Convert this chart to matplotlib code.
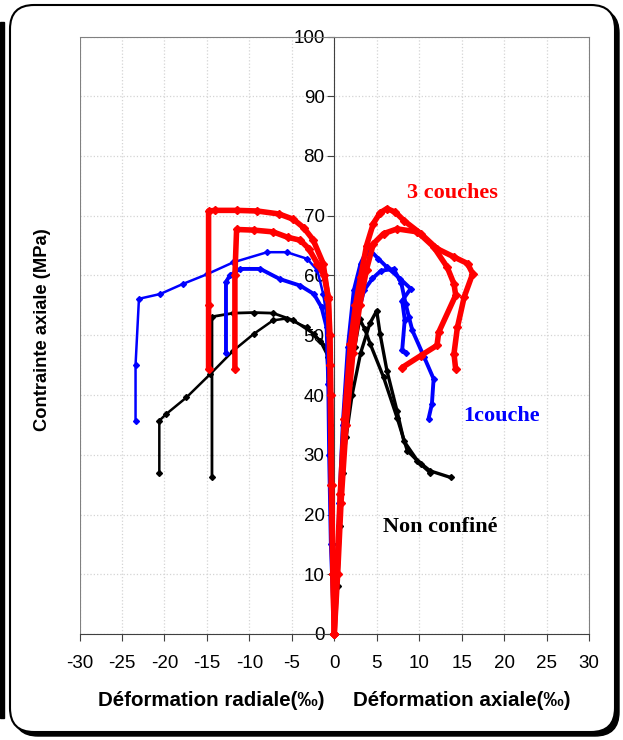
import matplotlib
matplotlib.use("Agg")
import matplotlib.pyplot as plt
from matplotlib.patches import FancyBboxPatch, Rectangle

plt.rcParams['font.family'] = ['Liberation Sans', 'DejaVu Sans']

# Courbes contrainte / déformation : branche radiale (x < 0) et axiale (x > 0)
# 3 couches
red_a_rad_x = [0, -0.15, -0.3, -0.4, -0.5, -0.7, -1.3, -2.5, -3.6, -4.8, -6.5, -9.1, -11.5, -14.0, -14.8, -14.8, -14.8]
red_a_rad_y = [0, 10, 25, 40, 50, 56, 62, 66, 68, 69.4, 70.3, 70.8, 70.9, 70.9, 70.8, 55, 44.3]
red_b_rad_x = [0, -0.15, -0.35, -0.5, -0.7, -1.2, -2.0, -3.0, -4.0, -5.5, -7.2, -9.5, -11.5, -11.7, -11.7]
red_b_rad_y = [0, 10, 25, 45, 56.4, 60, 62, 64.5, 65.9, 66.4, 67.3, 67.6, 67.7, 60, 44.3]
red_a_ax_x = [0, 0.3, 0.7, 1.2, 1.9, 2.5, 3.1, 3.8, 4.6, 5.4, 6.2, 7.2, 8.2, 10.2, 12.1, 14.1, 15.7, 16.3, 15.3, 14.5, 14.1, 14.3]
red_a_ax_y = [0, 10, 23.4, 36, 48.5, 55, 59.7, 65, 68.7, 70.5, 71.2, 70.6, 69.2, 67.0, 64.5, 63.1, 62.0, 60.3, 56.4, 51.3, 46.9, 44.3]
red_b_ax_x = [0, 0.4, 0.8, 1.4, 2.2, 3.0, 3.8, 4.6, 5.8, 7.4, 9.8, 11.7, 13.3, 14.1, 14.3, 12.3, 12.1, 10.2, 8.0]
red_b_ax_y = [0, 10, 22, 35, 47, 55, 61, 65.3, 67.0, 67.8, 67.3, 64.8, 61.4, 58.6, 56.7, 50.5, 48.3, 46.6, 44.6]

# 1 couche
blue_a_rad_x = [0, -0.3, -0.5, -0.6, -0.7, -1.3, -2.0, -3.2, -5.6, -7.9, -11.9, -15.0, -17.8, -20.5, -23.0, -23.4, -23.4]
blue_a_rad_y = [0, 15, 30, 42.4, 51.3, 56.9, 60.9, 62.8, 63.9, 63.9, 62.2, 60.2, 58.6, 56.9, 56.1, 45, 35.7]
blue_b_rad_x = [0, -0.4, -0.6, -0.7, -0.9, -1.5, -2.4, -4.0, -6.4, -8.7, -11.1, -12.3, -12.75, -12.75]
blue_b_rad_y = [0, 15, 30, 41.8, 51.3, 54.7, 56.9, 58.3, 59.4, 61.1, 61.1, 60.0, 58.9, 47.0]
blue_a_ax_x = [0, 0.3, 0.6, 1.0, 1.6, 2.3, 3.1, 3.7, 4.25, 5.2, 6.2, 7.8, 9.0, 8.0, 8.3, 8.0, 8.4]
blue_a_ax_y = [0, 10, 22, 35, 48, 57.5, 62, 63.8, 64.2, 62.8, 61.4, 59.4, 57.8, 55.8, 52.6, 47.5, 47.1]
blue_b_ax_x = [0, 0.4, 0.8, 1.3, 2.0, 2.7, 3.5, 4.5, 5.5, 7.0, 7.9, 8.4, 8.8, 9.2, 10.6, 11.7, 11.5, 11.1]
blue_b_ax_y = [0, 10, 22, 35, 46, 53, 57.5, 59.5, 60.8, 61.1, 58.7, 55.3, 53.0, 50.8, 46.3, 42.7, 38.5, 36.0]

# non confiné
black_a_rad_x = [0, -0.3, -0.5, -0.9, -2.4, -4.8, -7.2, -9.5, -11.9, -14.4, -14.4]
black_a_rad_y = [0, 15, 35, 48.0, 50.2, 52.5, 53.7, 53.8, 53.7, 53.1, 26.2]
black_b_rad_x = [0, -0.3, -0.5, -0.7, -1.7, -3.2, -5.6, -7.2, -9.5, -11.9, -14.6, -17.4, -19.8, -20.6, -20.6]
black_b_rad_y = [0, 15, 35, 46.3, 49.1, 51.3, 52.8, 52.5, 50.2, 47.4, 43.5, 39.6, 36.8, 35.7, 27.0]
black_a_ax_x = [0, 0.3, 0.6, 0.9, 1.2, 1.8, 2.4, 3.0, 3.6, 4.25, 5.8, 7.4, 8.6, 10.2, 11.3]
black_a_ax_y = [0, 8, 18, 28, 36, 42, 48, 52.7, 51, 48.5, 43.0, 36.2, 30.7, 28.4, 27.0]
black_b_ax_x = [0, 0.4, 0.7, 1.0, 1.4, 2.1, 3.1, 4.2, 5.0, 5.4, 6.2, 7.4, 8.2, 9.8, 11.3, 13.7]
black_b_ax_y = [0, 8, 18, 27, 33, 40, 47, 52, 54.1, 50.2, 44.1, 37.3, 32.3, 29.0, 27.3, 26.2]

x_ticks = list(range(-30, 31, 5))
y_ticks = list(range(0, 101, 10))

W, H = 623, 740
fig = plt.figure(figsize=(W / 100, H / 100), dpi=100)

# cadre arrondi avec ombre, en coordonnées pixel
bg = fig.add_axes([0, 0, 1, 1])
bg.set_xlim(0, W)
bg.set_ylim(0, H)
bg.axis('off')
bg.add_patch(Rectangle((0, 22), 4, 696, color='black'))
bg.add_patch(FancyBboxPatch((14, 4), 605, 727, boxstyle="round,pad=0,rounding_size=24",
                            facecolor='black', edgecolor='black', lw=1))
bg.add_patch(FancyBboxPatch((10, 8), 605, 727, boxstyle="round,pad=0,rounding_size=24",
                            facecolor='white', edgecolor='black', lw=1.5))

ax = fig.add_axes([79.5 / W, 106 / H, (589 - 79.5) / W, (634 - 36.5) / H])
ax.set_xlim(-30, 30)
ax.set_ylim(0, 100)

# l'axe vertical passe par x = 0 (à placer avant de régler les graduations)
ax.spines['left'].set_position(('data', 0))
ax.spines['left'].set_color('#404040')
ax.spines['bottom'].set_color('#404040')
ax.spines['top'].set_color('#808080')
ax.spines['right'].set_color('#808080')
ax.axvline(-30, color='#808080', lw=0.8, zorder=1)

curves = [
    (black_a_rad_x, black_a_rad_y, 'black', 2.0, 3.0),
    (black_b_rad_x, black_b_rad_y, 'black', 1.8, 3.0),
    (black_a_ax_x, black_a_ax_y, 'black', 2.4, 3.0),
    (black_b_ax_x, black_b_ax_y, 'black', 2.4, 3.0),
    (blue_a_rad_x, blue_a_rad_y, 'blue', 1.8, 3.0),
    (blue_b_rad_x, blue_b_rad_y, 'blue', 2.8, 3.0),
    (blue_a_ax_x, blue_a_ax_y, 'blue', 2.8, 3.0),
    (blue_b_ax_x, blue_b_ax_y, 'blue', 2.8, 3.0),
    (red_a_rad_x, red_a_rad_y, 'red', 4.0, 3.6),
    (red_b_rad_x, red_b_rad_y, 'red', 4.0, 3.6),
    (red_a_ax_x, red_a_ax_y, 'red', 4.0, 3.6),
    (red_b_ax_x, red_b_ax_y, 'red', 4.0, 3.6),
]
for xs, ys, col, lw, ms in curves:
    ax.plot(xs, ys, color=col, lw=lw, marker='D', ms=ms, mec=col, mfc=col,
            solid_joinstyle='round', solid_capstyle='round', clip_on=False, zorder=3)

ax.set_xticks(x_ticks)
ax.set_yticks(y_ticks)
ax.set_xticklabels([str(v) for v in x_ticks])
ax.set_yticklabels([str(v) for v in y_ticks])
ax.grid(True, color='#d4d4d4', ls=':', lw=0.9)
ax.set_axisbelow(True)
ax.tick_params(axis='x', direction='out', length=5, width=0.8, pad=10, colors='#404040',
               labelcolor='black', labelsize=13.5)
ax.tick_params(axis='y', direction='out', length=5, width=0.8, pad=2, colors='#404040',
               labelcolor='black', labelsize=13.5)

ax.text(13.96, 73.8, '3 couches', color='red', fontsize=16, fontweight='bold',
        family='Liberation Serif', ha='center', va='center')
ax.text(19.7, 36.5, '1couche', color='blue', fontsize=16, fontweight='bold',
        family='Liberation Serif', ha='center', va='center')
ax.text(12.5, 17.9, 'Non confiné', color='black', fontsize=16, fontweight='bold',
        family='Liberation Serif', ha='center', va='center')

fig.text(211 / W, 1 - 701 / H, 'Déformation radiale(‰)', fontsize=14.8, fontweight='bold',
         ha='center', va='center')
fig.text(462 / W, 1 - 701 / H, 'Déformation axiale(‰)', fontsize=14.8, fontweight='bold',
         ha='center', va='center')
fig.text(43 / W, 1 - 330 / H, 'Contrainte axiale (MPa)', fontsize=13.2, fontweight='bold',
         rotation=90, ha='center', va='center')

fig.savefig('out.png', dpi=100)
